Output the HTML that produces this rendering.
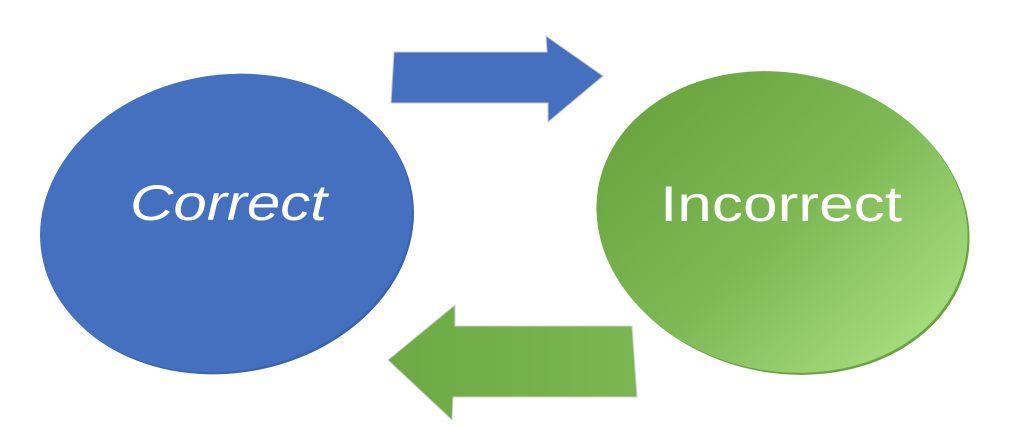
<!DOCTYPE html>
<html><head><meta charset="utf-8"><style>
html,body{margin:0;padding:0;background:#fff;}
svg{display:block;}
</style></head><body>
<svg width="1009" height="428" viewBox="0 0 1009 428" xmlns="http://www.w3.org/2000/svg">
<defs>
<linearGradient id="g" gradientUnits="userSpaceOnUse" x1="640" y1="110" x2="950" y2="330">
<stop offset="0" stop-color="#6aa540"/>
<stop offset="0.5" stop-color="#7fb956"/>
<stop offset="1" stop-color="#a9e081"/>
</linearGradient>
<linearGradient id="ga" x1="0" y1="0" x2="1" y2="0">
<stop offset="0" stop-color="#6da945"/>
<stop offset="1" stop-color="#7bb653"/>
</linearGradient>
</defs>
<!-- blue ellipse -->
<ellipse cx="228" cy="225" rx="187" ry="148" transform="rotate(-10 228 225)" fill="#3a64b0"/>
<ellipse cx="226" cy="223" rx="187" ry="148" transform="rotate(-10 226 223)" fill="#4470bf"/>
<text x="130" y="220" fill="#fff" font-family="Liberation Sans, sans-serif" font-style="italic" font-size="50" textLength="197" lengthAdjust="spacingAndGlyphs">Correct</text>
<!-- green ellipse -->
<ellipse cx="784" cy="224" rx="187" ry="149" transform="rotate(12 784 224)" fill="#69a33f"/>
<ellipse cx="782" cy="222" rx="187" ry="149" transform="rotate(12 782 222)" fill="url(#g)"/>
<text x="660" y="221" fill="#fff" font-family="Liberation Sans, sans-serif" font-size="50" textLength="242" lengthAdjust="spacingAndGlyphs">Incorrect</text>
<!-- blue arrow -->
<polygon points="394,52 547,52 546,36 603,76 548,122 548,103 391,103" fill="#4470bf" stroke="#c8c8c8" stroke-width="1"/>
<!-- green arrow -->
<polygon points="388,360 455,305 455,326 632,326 637,397 453,397 452,420" fill="url(#ga)" stroke="#d0d0d0" stroke-width="1"/>
</svg>
</body></html>
